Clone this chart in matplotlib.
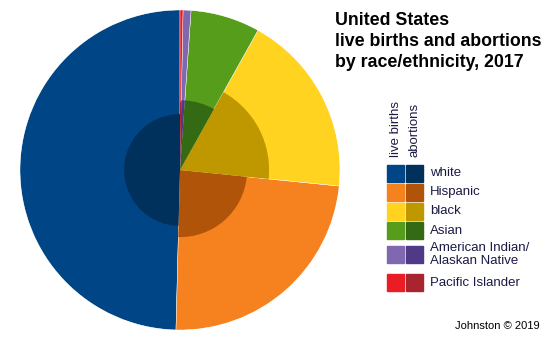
import numpy as np
import matplotlib
matplotlib.use("Agg")
import matplotlib.pyplot as plt
from matplotlib.patches import Rectangle

plt.rcParams['font.family'] = ['Liberation Sans', 'DejaVu Sans']

# ------------------------------------------------------------------
# data
# ------------------------------------------------------------------
groups = ["white", "Hispanic", "black", "Asian",
          "American Indian/\nAlaskan Native", "Pacific Islander"]
births_share = [49.6, 23.8, 18.5, 7.0, 0.8, 0.3]          # % of live births
abortion_ratio = [0.122, 0.176, 0.31, 0.19, 0.19, 0.18]   # abortions per live birth
births_colors = ["#004586", "#f5821f", "#ffd320", "#579d1c", "#8068b0", "#ea1c24"]
abort_colors = ["#00305c", "#b0540a", "#bf9800", "#356a14", "#4f3a88", "#a8242f"]

W, H = 556, 340
fig = plt.figure(figsize=(W / 100, H / 100), dpi=100)

# ------------------------------------------------------------------
# pie: outer = live births, inner wedges scaled by abortion ratio
# ------------------------------------------------------------------
ax = fig.add_axes([20 / W, 1 - 330 / H, 320 / W, 320 / H], projection="polar")
ax.set_theta_zero_location("N")
ax.set_theta_direction(1)

share = np.array(births_share) / np.sum(births_share)
widths = share * 2 * np.pi
lefts = np.concatenate([[0], np.cumsum(widths)[:-1]])

ax.bar(lefts, 1.0, width=widths, align="edge", color=births_colors,
       edgecolor="white", linewidth=0.3)
ax.bar(lefts, np.sqrt(abortion_ratio), width=widths, align="edge",
       color=abort_colors, edgecolor="none", linewidth=0)
ax.set_ylim(0, 1)
ax.set_axis_off()

# ------------------------------------------------------------------
# overlay in pixel coordinates for title / legend / credit
# ------------------------------------------------------------------
ov = fig.add_axes([0, 0, 1, 1])
ov.set_xlim(0, W)
ov.set_ylim(H, 0)
ov.set_axis_off()

ov.text(335, 12, "United States\nlive births and abortions\nby race/ethnicity, 2017",
        fontsize=12.8, fontweight="bold", ha="left", va="top", linespacing=1.3,
        color="black")

txt_col = "#1a1a45"
ov.text(396, 157, "live births", rotation=90, ha="center", va="bottom",
        fontsize=9.5, color=txt_col)
ov.text(415, 157, "abortions", rotation=90, ha="center", va="bottom",
        fontsize=9.5, color=txt_col)

row_tops = [165, 184, 203, 222, 246, 274]
for top, name, c1, c2 in zip(row_tops, groups, births_colors, abort_colors):
    ov.add_patch(Rectangle((387, top), 17, 17, color=c1))
    ov.add_patch(Rectangle((406, top), 17, 17, color=c2))
    ov.text(430, top + 8.5, name, ha="left", va="center", fontsize=9.5,
            color=txt_col, linespacing=1.2)

ov.text(540, 326, "Johnston \u00a9 2019", ha="right", va="center",
        fontsize=8, color="black")

fig.savefig("out.png", dpi=100)
